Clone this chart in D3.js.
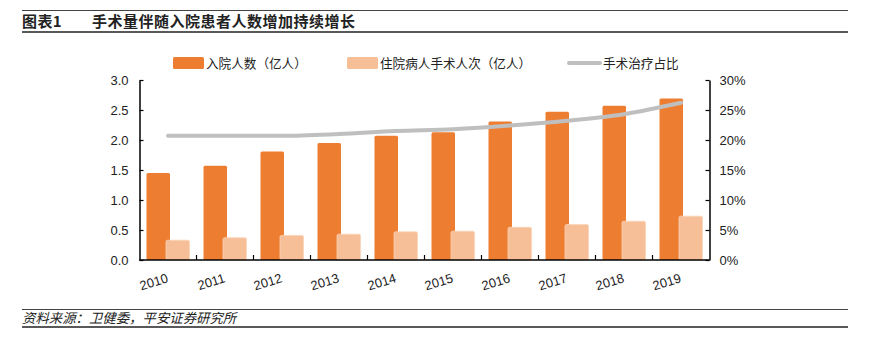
<!DOCTYPE html>
<html><head><meta charset="utf-8">
<script src="https://cdn.jsdelivr.net/npm/d3@7"></script>
<style>
body{margin:0;background:#fff;}
svg{display:block;}
</style></head>
<body>
<svg id="c" width="871" height="355"></svg>
<script>
const years = ["2010","2011","2012","2013","2014","2015","2016","2017","2018","2019"];
const admissions = [1.45,1.57,1.81,1.95,2.07,2.13,2.31,2.47,2.57,2.69];
const surgeries = [0.33,0.37,0.41,0.43,0.47,0.48,0.545,0.59,0.645,0.73];
const surgeryShare = [20.7,20.7,20.7,21.0,21.5,21.8,22.4,23.2,24.3,26.2];
const leftTicks = [0,0.5,1.0,1.5,2.0,2.5,3.0];
const rightTicks = [0,5,10,15,20,25,30];
const seriesNames = ["入院人数（亿人）","住院病人手术人次（亿人）","手术治疗占比"];
const titleLabel = "图表1";
const titleText = "手术量伴随入院患者人数增加持续增长";
const sourceText = "资料来源：卫健委，平安证券研究所";

const svg = d3.select("#c");
const cn = "'Noto Sans CJK SC','Noto Sans',sans-serif";
const num = "'Liberation Sans',Arial,sans-serif";
const orange = "#ED7D31", light = "#F7BF98", gray = "#BFBFBF";

// header / footer rules
svg.append("line").attr("x1",22).attr("x2",848).attr("y1",10.5).attr("y2",10.5).attr("stroke","#444").attr("stroke-width",1);
svg.append("line").attr("x1",22).attr("x2",848).attr("y1",32).attr("y2",32).attr("stroke","#222").attr("stroke-width",1.5);
svg.append("text").attr("x",22).attr("y",27).attr("font-family",cn).attr("font-weight","bold").attr("font-size",15).attr("letter-spacing",0.4).attr("fill","#222").text(titleLabel);
svg.append("text").attr("x",92).attr("y",27).attr("font-family",cn).attr("font-weight","bold").attr("font-size",15).attr("letter-spacing",0.5).attr("fill","#222").text(titleText);
svg.append("line").attr("x1",22).attr("x2",848).attr("y1",309.5).attr("y2",309.5).attr("stroke","#444").attr("stroke-width",1);
svg.append("line").attr("x1",22).attr("x2",848).attr("y1",327).attr("y2",327).attr("stroke","#222").attr("stroke-width",1.5);
svg.append("text").attr("x",22).attr("y",323).attr("font-family",cn).attr("font-style","italic").attr("font-size",13.4).attr("fill","#222").text(sourceText);

const x0 = 139.5, x1 = 709.5, yTop = 80, yBot = 260;
const x = d3.scaleBand().domain(years).range([x0,x1]).padding(0);
const yL = d3.scaleLinear().domain([0,3]).range([yBot,yTop]);
const yR = d3.scaleLinear().domain([0,30]).range([yBot,yTop]);

const bw = 23.5, overlap = 4;
const g = svg.append("g");
g.selectAll("rect.a").data(years).enter().append("rect")
  .attr("x",(d)=>x(d)+x.bandwidth()/2 - bw + overlap/2)
  .attr("y",(d,i)=>yL(admissions[i]))
  .attr("width",bw).attr("height",(d,i)=>yBot-yL(admissions[i]))
  .attr("fill",orange).attr("rx",1.5);
g.selectAll("rect.b").data(years).enter().append("rect")
  .attr("x",(d)=>x(d)+x.bandwidth()/2 - overlap/2)
  .attr("y",(d,i)=>yL(surgeries[i]))
  .attr("width",bw).attr("height",(d,i)=>yBot-yL(surgeries[i]))
  .attr("fill",light).attr("stroke","#FAD3B8").attr("stroke-width",0.8).attr("rx",1.5);

const line = d3.line().x((d,i)=>x(years[i])+x.bandwidth()/2).y(d=>yR(d)).curve(d3.curveMonotoneX);
svg.append("path").datum(surgeryShare).attr("d",line).attr("fill","none").attr("stroke",gray).attr("stroke-width",4).attr("stroke-linecap","round");

const axL = d3.axisLeft(yL).tickValues(leftTicks).tickFormat(d3.format(".1f")).tickSizeInner(-4).tickSizeOuter(0).tickPadding(10);
const gl = svg.append("g").attr("transform",`translate(${x0},0)`).call(axL);
const axR = d3.axisRight(yR).tickValues(rightTicks).tickFormat(d=>d+"%").tickSizeInner(-4).tickSizeOuter(0).tickPadding(10);
const gr = svg.append("g").attr("transform",`translate(${x1},0)`).call(axR);
[gl,gr].forEach(a=>{
  a.select(".domain").attr("stroke","#000").attr("stroke-width",1.5);
  a.selectAll(".tick line").attr("stroke","#000").attr("stroke-width",1.2);
  a.selectAll("text").attr("font-family",num).attr("font-size",13).attr("fill","#222");
});
gl.selectAll(".tick text").attr("dx",-1);
const xAxisG = svg.append("g");
xAxisG.append("line").attr("x1",x0).attr("x2",x1).attr("y1",yBot).attr("y2",yBot).attr("stroke","#000").attr("stroke-width",1.5);
xAxisG.selectAll("line.t").data(years.slice(1)).enter().append("line")
  .attr("x1",d=>x(d)).attr("x2",d=>x(d)).attr("y1",yBot).attr("y2",yBot-5).attr("stroke","#000").attr("stroke-width",1.2);
xAxisG.selectAll("text").data(years).enter().append("text")
  .attr("transform",d=>`translate(${x(d)+x.bandwidth()/2+1},${282}) rotate(-17)`)
  .attr("text-anchor","end").attr("font-family",num).attr("font-size",13).attr("fill","#222").text(d=>d);

const lg = svg.append("g").attr("font-family",cn).attr("font-size",12.6).attr("fill","#222");
lg.append("rect").attr("x",173).attr("y",57).attr("width",31).attr("height",12).attr("fill",orange).attr("rx",1.5);
lg.append("text").attr("x",206).attr("y",67.5).text(seriesNames[0]);
lg.append("rect").attr("x",347).attr("y",57).attr("width",31).attr("height",12).attr("fill",light).attr("rx",1.5);
lg.append("text").attr("x",380).attr("y",67.5).text(seriesNames[1]);
lg.append("line").attr("x1",569).attr("x2",600).attr("y1",63).attr("y2",63).attr("stroke",gray).attr("stroke-width",4).attr("stroke-linecap","round");
lg.append("text").attr("x",603).attr("y",67.5).text(seriesNames[2]);
</script>
</body></html>
